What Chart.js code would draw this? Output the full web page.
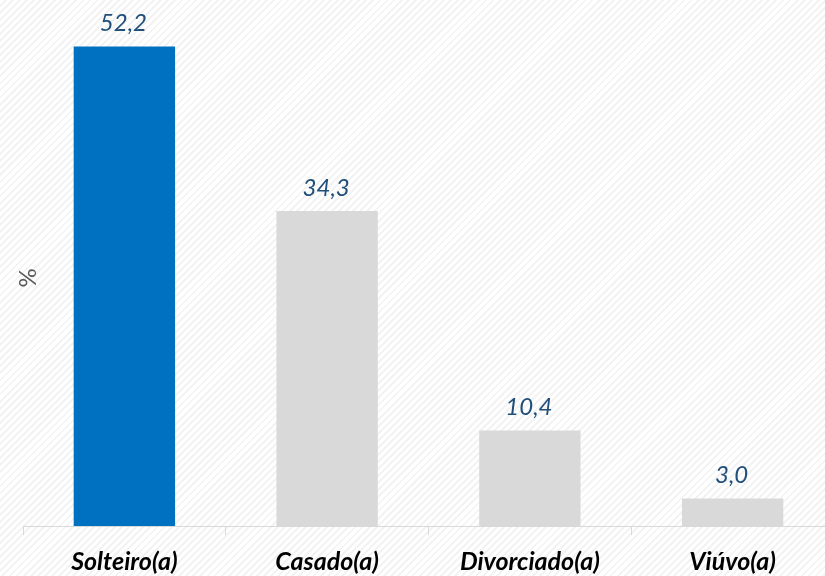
<!DOCTYPE html>
<html>
<head>
<meta charset="utf-8">
<script src="https://cdn.jsdelivr.net/npm/chart.js@4/dist/chart.umd.min.js"></script>
<style>
  html, body { margin: 0; padding: 0; overflow: hidden; }
  body {
    width: 825px; height: 576px;
    background: repeating-linear-gradient(135deg, #ffffff 0px, #ffffff 3px, #f3f3f3 3px, #f3f3f3 5px);
  }
  #wrap { width: 834px; height: 576px; position: relative; }
</style>
</head>
<body>
<div id="wrap"><canvas id="myChart"></canvas></div>
<script>
// categories and values (%)
const categories = ['Solteiro(a)', 'Casado(a)', 'Divorciado(a)', 'Viúvo(a)'];
const percentages = [52.2, 34.3, 10.4, 3.0];
const barColors = ['#0070c0', '#d9d9d9', '#d9d9d9', '#d9d9d9'];

// draws the value over each bar, with a decimal comma
const valueLabels = {
    id: 'valueLabels',
    afterDatasetsDraw(chart) {
        const ctx = chart.ctx;
        const meta = chart.getDatasetMeta(0);
        ctx.save();
        ctx.font = 'italic 24px Lato, "Open Sans", sans-serif';
        ctx.fillStyle = '#1f4e79';
        ctx.textAlign = 'center';
        ctx.textBaseline = 'middle';
        meta.data.forEach((bar, i) => {
            const txt = percentages[i].toFixed(1).replace('.', ',');
            ctx.fillText(txt, bar.x - 1, bar.y - 23);
        });
        ctx.restore();
    }
};

const ctx = document.querySelector('#myChart').getContext('2d');
const myChart = new Chart(ctx, {
    type: 'bar',
    data: {
        labels: categories,
        datasets: [{
            data: percentages,
            backgroundColor: barColors,
            borderWidth: 0,
            categoryPercentage: 1,
            barPercentage: 0.5
        }]
    },
    options: {
        responsive: true,
        maintainAspectRatio: false,
        animation: false,
        layout: { padding: { top: 30, left: -1, right: 0, bottom: 0 } },
        plugins: {
            legend: { display: false },
            tooltip: { enabled: false }
        },
        scales: {
            x: {
                grid: {
                    display: true,
                    drawOnChartArea: false,
                    drawTicks: true,
                    tickLength: 9,
                    color: '#d9d9d9'
                },
                border: { display: true, color: '#d9d9d9', width: 1 },
                ticks: {
                    color: '#000000',
                    padding: 12,
                    font: { family: 'Lato, "Open Sans", sans-serif', size: 25, style: 'italic', weight: 'bold' }
                },
                afterFit(scale) { scale.height = 50; }
            },
            y: {
                min: 0,
                max: 54,
                grid: { display: false },
                border: { display: false },
                ticks: { display: false },
                title: {
                    display: true,
                    text: '%',
                    color: '#595959',
                    padding: { top: 15, bottom: 0 },
                    font: { family: 'Lato, "Open Sans", sans-serif', size: 24 }
                },
                afterFit(scale) { scale.width = 24; }
            }
        }
    },
    plugins: [valueLabels]
});
</script>
</body>
</html>
